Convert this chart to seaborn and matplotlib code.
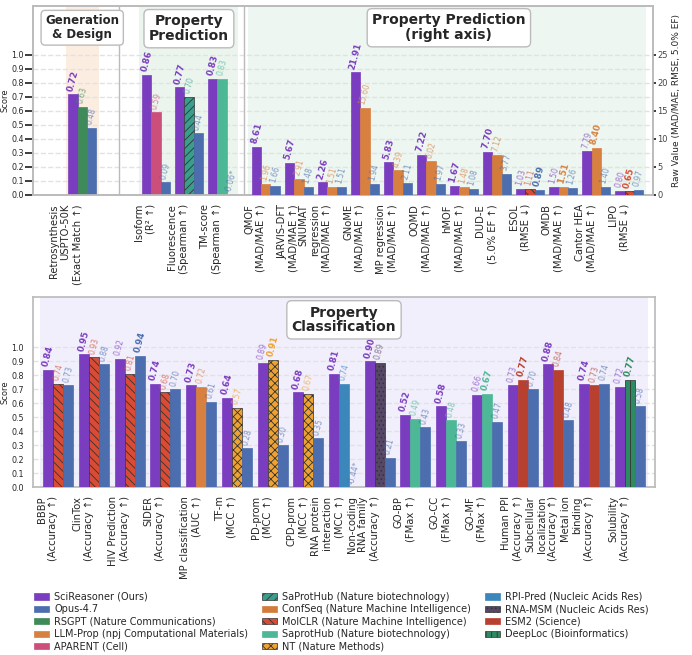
import numpy as np
import matplotlib
matplotlib.use("Agg")
import matplotlib.pyplot as plt
import matplotlib.transforms as mtransforms
from matplotlib.patches import Patch
import seaborn as sns

sns.set_theme(style="whitegrid")
plt.rcParams["font.family"] = ["DejaVu Sans"]
plt.rcParams["hatch.linewidth"] = 0.6
plt.rcParams["grid.linestyle"] = "--"
plt.rcParams["grid.color"] = "#e2e2e2"

# ---------------- 数据 ----------------
SCI = "SciReasoner (Ours)"
OPUS = "Opus-4.7"

# 上图：前 4 个任务用左轴 (Score)，其余用右轴 (Raw Value)
top_tasks = [
    "Retrosynthesis\nUSPTO-50K\n(Exact Match ↑)",
    "Isoform\n(R² ↑)", "Fluorescence\n(Spearman ↑)", "TM-score\n(Spearman ↑)",
    "QMOF\n(MAD/MAE ↑)", "JARVIS-DFT\n(MAD/MAE ↑)", "SNUMAT\nregression\n(MAD/MAE ↑)",
    "GNoME\n(MAD/MAE ↑)", "MP regression\n(MAD/MAE ↑)", "OQMD\n(MAD/MAE ↑)",
    "hMOF\n(MAD/MAE ↑)", "DUD-E\n(5.0% EF ↑)", "ESOL\n(RMSE ↓)",
    "OMDB\n(MAD/MAE ↑)", "Cantor HEA\n(MAD/MAE ↑)", "LIPO\n(RMSE ↓)",
]
top_sci = [0.72, 0.86, 0.77, 0.83, 8.61, 5.67, 2.26, 21.91, 5.83, 7.22, 1.67,
           7.70, 1.03, 1.50, 7.79, 0.80]
top_base = [0.63, 0.59, 0.70, 0.83, 1.96, 2.91, 1.51, 15.60, 4.39, 6.02, 1.48,
            7.12, 1.11, 1.51, 8.40, 0.65]
top_opus = [0.48, 0.09, 0.44, -0.06, 1.66, 1.48, 1.51, 1.94, 2.11, 1.97, 1.08,
            3.77, 0.89, 1.26, 1.40, 0.97]
top_base_name = [
    "RSGPT (Nature Communications)", "APARENT (Cell)",
    "SaProtHub (Nature biotechnology)", "SaprotHub (Nature biotechnology)",
] + ["LLM-Prop (npj Computational Materials)"] * 7 + [
    "ConfSeq (Nature Machine Intelligence)", "MolCLR (Nature Machine Intelligence)",
    "LLM-Prop (npj Computational Materials)", "LLM-Prop (npj Computational Materials)",
    "MolCLR (Nature Machine Intelligence)",
]
top_lower_better = ["ESOL\n(RMSE ↓)", "LIPO\n(RMSE ↓)"]
n_left_tasks = 4

# 下图：Property Classification
bot_tasks = [
    "BBBP\n(Accuracy ↑)", "ClinTox\n(Accuracy ↑)", "HIV Prediction\n(Accuracy ↑)",
    "SIDER\n(Accuracy ↑)", "MP classification\n(AUC ↑)", "TF-m\n(MCC ↑)",
    "PD-prom\n(MCC ↑)", "CPD-prom\n(MCC ↑)", "RNA protein\ninteraction\n(MCC ↑)",
    "Non-coding\nRNA family\n(Accuracy ↑)", "GO-BP\n(FMax ↑)", "GO-CC\n(FMax ↑)",
    "GO-MF\n(FMax ↑)", "Human PPI\n(Accuracy ↑)",
    "Subcellular\nlocalization\n(Accuracy ↑)", "Metal ion\nbinding\n(Accuracy ↑)",
    "Solubility\n(Accuracy ↑)",
]
bot_sci = [0.84, 0.95, 0.92, 0.74, 0.73, 0.64, 0.89, 0.68, 0.81, 0.90, 0.52,
           0.58, 0.66, 0.73, 0.88, 0.74, 0.72]
bot_base = [0.74, 0.93, 0.81, 0.68, 0.72, 0.57, 0.91, 0.67, 0.74, 0.89, 0.49,
            0.48, 0.67, 0.77, 0.84, 0.73, 0.77]
bot_opus = [0.73, 0.88, 0.94, 0.70, 0.61, 0.28, 0.30, 0.35, -0.44, 0.21, 0.43,
            0.33, 0.47, 0.70, 0.48, 0.74, 0.58]
bot_base_name = (["MolCLR (Nature Machine Intelligence)"] * 4
                 + ["LLM-Prop (npj Computational Materials)"]
                 + ["NT (Nature Methods)"] * 3
                 + ["RPI-Pred (Nucleic Acids Res)", "RNA-MSM (Nucleic Acids Res)"]
                 + ["SaprotHub (Nature biotechnology)"] * 3
                 + ["ESM2 (Science)"] * 3
                 + ["DeepLoc (Bioinformatics)"])

# ---------------- 样式 ----------------
STYLE = {
    SCI: ("#7a3dbf", None),
    OPUS: ("#4c6eae", None),
    "RSGPT (Nature Communications)": ("#3f8a59", None),
    "LLM-Prop (npj Computational Materials)": ("#d8803f", None),
    "APARENT (Cell)": ("#cc4f7b", None),
    "SaProtHub (Nature biotechnology)": ("#3a9e8c", "////"),
    "ConfSeq (Nature Machine Intelligence)": ("#d27b3a", None),
    "MolCLR (Nature Machine Intelligence)": ("#d84b35", "\\\\\\\\"),
    "SaprotHub (Nature biotechnology)": ("#4db895", None),
    "NT (Nature Methods)": ("#eea232", "xxxx"),
    "RPI-Pred (Nucleic Acids Res)": ("#3b86bb", None),
    "RNA-MSM (Nucleic Acids Res)": ("#574766", "...."),
    "ESM2 (Science)": ("#b8402f", None),
    "DeepLoc (Bioinformatics)": ("#2e8a60", "|||"),
}
BW = 0.28


def draw_group(ax, xc, vals, names, lower_better=False, neg_y=0.01, pad=0.015):
    valid = [v if v >= 0 else np.nan for v in vals]
    arr = np.array([np.inf if np.isnan(v) else v for v in valid]) if lower_better \
        else np.array([-np.inf if np.isnan(v) else v for v in valid])
    best = int(np.argmin(arr)) if lower_better else int(np.argmax(arr))
    for k, (v, name) in enumerate(zip(vals, names)):
        color, hatch = STYLE[name]
        x = xc + (k - 1) * BW
        bold = k == best
        if v < 0:
            ax.text(x, neg_y, f"{v:.2f}*", rotation=75, ha="center", va="bottom",
                    fontsize=5.5, color=color, alpha=0.7)
            continue
        ax.bar(x, v, width=BW, color=color, hatch=hatch,
               edgecolor="#333333" if hatch else color, linewidth=0.5, zorder=3)
        ax.text(x, v + pad, f"{v:.2f}", rotation=75, ha="center", va="bottom",
                fontsize=6.2 if bold else 5.5, fontweight="bold" if bold else "normal",
                color=color, alpha=1.0 if bold else 0.7, zorder=4)


def title_box(ax, x, y, text, size):
    trans = mtransforms.blended_transform_factory(ax.transData, ax.transAxes)
    ax.text(x, y, text, transform=trans, ha="center", va="center", fontsize=size,
            fontweight="bold", linespacing=1.05, zorder=6,
            bbox=dict(boxstyle="round,pad=0.35", fc="white", ec="#bbbbbb", lw=1))


fig = plt.figure(figsize=(6.92, 6.55), dpi=100)

# ---------------- 上图 ----------------
ax = fig.add_axes([33 / 692, 1 - 195 / 655, 620 / 692, 189 / 655])
ax2 = ax.twinx()

# 分区间隔
top_x = np.arange(len(top_tasks), dtype=float)
top_x[1:] += 1.23
top_x[n_left_tasks:] += 0.33

ax.axvspan(top_x[0] - 0.5, top_x[0] + 0.5, color="#fce9da", alpha=0.8, lw=0, zorder=0)
ax.axvspan(top_x[1] - 0.5, top_x[3] + 0.5, color="#e6f3ea", alpha=0.8, lw=0, zorder=0)
ax.axvspan(top_x[4] - 0.55, top_x[-1] + 0.5, color="#ecf6ef", alpha=0.9, lw=0, zorder=0)
ax.axvline((top_x[0] + top_x[1]) / 2, color="#bbbbbb", lw=1, zorder=1)
ax.axvline((top_x[3] + top_x[4]) / 2, color="#bbbbbb", lw=1, zorder=1)

for i, task in enumerate(top_tasks):
    names = [SCI, top_base_name[i], OPUS]
    vals = [top_sci[i], top_base[i], top_opus[i]]
    if i < n_left_tasks:
        draw_group(ax, top_x[i], vals, names)
    else:
        draw_group(ax2, top_x[i], vals, names,
                   lower_better=task in top_lower_better, neg_y=0.25, pad=0.4)

ax.set_xlim(-1.49, 17.28)
ax.set_ylim(0, 1.35)
ax2.set_ylim(0, 1.35 * 25)
ax.set_yticks(np.arange(0, 1.01, 0.1))
ax.set_yticklabels([f"{t:.1f}" for t in np.arange(0, 1.01, 0.1)], fontsize=5.8)
ax2.set_yticks(np.arange(0, 26, 5))
ax2.set_yticklabels([str(t) for t in range(0, 26, 5)], fontsize=6, color="#444444")
ax2.tick_params(axis="y", length=2, pad=1)
ax2.grid(False)
ax.grid(axis="x", visible=False)
ax.set_ylabel("Score", fontsize=6, labelpad=1)
ax2.set_ylabel("Raw Value (MAD/MAE, RMSE, 5.0% EF)", fontsize=6.5, labelpad=3)
ax.set_xticks(top_x)
ax.set_xticklabels(top_tasks, rotation=90, ha="right", fontsize=7.2)
ax.tick_params(axis="both", pad=0.5)
for a in (ax, ax2):
    for s in a.spines.values():
        s.set_color("#bbbbbb")
ax2.set_zorder(ax.get_zorder() + 1)
ax2.patch.set_visible(False)

title_box(ax, top_x[0], 0.885, "Generation\n& Design", 8.5)
title_box(ax, top_x[2], 0.88, "Property\nPrediction", 10)
title_box(ax2, 11.1, 0.885, "Property Prediction\n(right axis)", 10)

# ---------------- 下图 ----------------
bx = fig.add_axes([33 / 692, 1 - 487.3 / 655, 622 / 692, 190.3 / 655])
bot_x = np.arange(len(bot_tasks), dtype=float)
bx.axvspan(bot_x[0] - 0.5, bot_x[-1] + 0.5, color="#f2effc", lw=0, zorder=0)
for i in range(len(bot_tasks)):
    draw_group(bx, bot_x[i], [bot_sci[i], bot_base[i], bot_opus[i]],
               [SCI, bot_base_name[i], OPUS])
bx.set_xlim(-0.71, 16.71)
bx.set_ylim(0, 1.36)
bx.set_yticks(np.arange(0, 1.01, 0.1))
bx.set_yticklabels([f"{t:.1f}" for t in np.arange(0, 1.01, 0.1)], fontsize=5.8)
bx.grid(axis="x", visible=False)
bx.set_ylabel("Score", fontsize=6, labelpad=1)
bx.set_xticks(bot_x)
bx.set_xticklabels(bot_tasks, rotation=90, ha="right", fontsize=7.2)
bx.tick_params(axis="both", pad=0.5)
for s in bx.spines.values():
    s.set_color("#bbbbbb")
title_box(bx, 8.0, 0.88, "Property\nClassification", 10)

# ---------------- 图例 ----------------
handles = [Patch(facecolor=c, hatch=h, edgecolor="#333333" if h else c, lw=0.5, label=n)
           for n, (c, h) in STYLE.items()]
fig.legend(handles=handles, ncol=3, loc="upper left",
           bbox_to_anchor=(30 / 692, 1 - 588 / 655), frameon=False, fontsize=7,
           handlelength=1.6, handleheight=0.6, labelspacing=0.25,
           columnspacing=1.4, handletextpad=0.5, borderaxespad=0)

fig.savefig("out.png", dpi=100)
plt.close(fig)
